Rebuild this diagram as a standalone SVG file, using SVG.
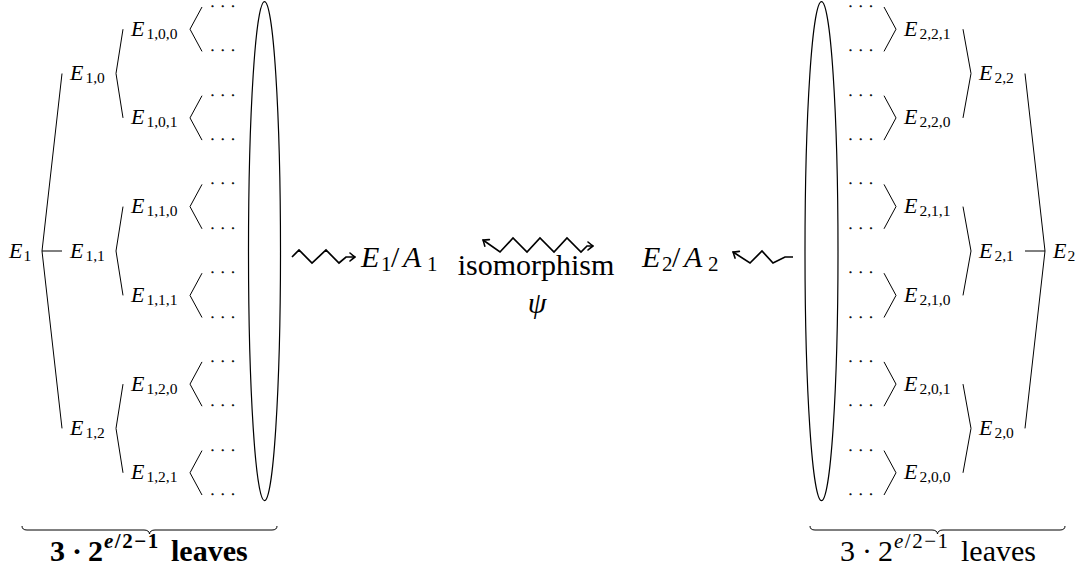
<svg xmlns="http://www.w3.org/2000/svg" width="1081" height="573" viewBox="0 0 1081 573" font-family="'Liberation Serif', 'DejaVu Serif', serif">
<style>
.ln{fill:none;stroke:#000;stroke-width:1}
.el{fill:none;stroke:#000;stroke-width:1.2}
.sq{fill:none;stroke:#000;stroke-width:1.7;stroke-linejoin:miter}
.t{font-size:22px;font-style:italic;fill:#000}
.s{font-size:15.5px;font-style:normal}
.d{font-size:12px;letter-spacing:6.3px;fill:#000;stroke:#000;stroke-width:0.7}
.m{font-size:30px;fill:#000}
.mi{font-style:italic}
.ms{font-size:21px;font-style:normal}
.b{font-size:30px;fill:#000}
.bs{font-size:21px;letter-spacing:1.5px}
</style>
<defs>
<marker id="ah" viewBox="-7 -5 8 10" refX="0" refY="0" markerWidth="8" markerHeight="10" markerUnits="userSpaceOnUse" orient="auto-start-reverse">
<path d="M-5,-4 Q-1.5,-1 0,0 Q-1.5,1 -5,4" fill="none" stroke="#000" stroke-width="1.6" stroke-linecap="round"/>
</marker>
</defs>

<g id="connectors">
<polyline class="ln" points="202,7 190,29.2 202,51.4"/>
<polyline class="ln" points="202,95.7 190,117.9 202,140.1"/>
<polyline class="ln" points="202,184.4 190,206.6 202,228.8"/>
<polyline class="ln" points="202,273.2 190,295.4 202,317.5"/>
<polyline class="ln" points="202,361.9 190,384.1 202,406.2"/>
<polyline class="ln" points="202,450.6 190,472.8 202,495"/>
<polyline class="ln" points="123,29.2 116,73.5 123,117.9"/>
<polyline class="ln" points="123,206.6 116,251 123,295.4"/>
<polyline class="ln" points="123,384.1 116,428.4 123,472.8"/>
<polyline class="ln" points="62,73.5 42,251 62,428.4"/>
<line class="ln" x1="42" y1="251" x2="62" y2="251"/>
<polyline class="ln" points="884,7 896,29.2 884,51.4"/>
<polyline class="ln" points="884,95.7 896,117.9 884,140.1"/>
<polyline class="ln" points="884,184.4 896,206.6 884,228.8"/>
<polyline class="ln" points="884,273.2 896,295.4 884,317.5"/>
<polyline class="ln" points="884,361.9 896,384.1 884,406.2"/>
<polyline class="ln" points="884,450.6 896,472.8 884,495"/>
<polyline class="ln" points="963,29.2 971,73.5 963,117.9"/>
<polyline class="ln" points="963,206.6 971,251 963,295.4"/>
<polyline class="ln" points="963,384.1 971,428.4 963,472.8"/>
<polyline class="ln" points="1025,73.5 1045,251 1025,428.4"/>
<line class="ln" x1="1025" y1="251" x2="1045" y2="251"/>
<path class="sq" d="M292,257 L299,250 L312,263 L326,250 L339,263 L346,257 L355,257" marker-end="url(#ah)"/>
<path class="sq" d="M483,240 L500,252 L513,238 L527,252 L540,238 L554,252 L567,238 L581,252 L587,246 L593,246" marker-start="url(#ah)" marker-end="url(#ah)"/>
<path class="sq" d="M793,257 L785,257 L773,263 L762,251 L750,263 L733,252" marker-end="url(#ah)"/>
</g>

<g id="left-leaf-set">
<ellipse class="el" cx="264.5" cy="251.2" rx="16" ry="249.5"/>
<path class="ln" d="M22,526 Q22,530 27,530 L144,530 Q149,530 149.5,534 Q150,530 155,530 L272,530 Q277,530 277,526"/>
<text class="b" font-weight="bold" y="561"><tspan x="50">3</tspan><tspan x="77" text-anchor="middle">·</tspan><tspan x="88">2</tspan><tspan class="bs" x="104" y="548"><tspan font-style="italic">e</tspan>/2−1</tspan><tspan x="171" y="561">leaves</tspan></text>
</g>
<g id="right-leaf-set">
<ellipse class="el" cx="821.5" cy="251.2" rx="16.5" ry="249.5"/>
<path class="ln" d="M810,526 Q810,530 815,530 L932,530 Q937,530 937.5,534 Q938,530 943,530 L1060,530 Q1065,530 1065,526"/>
<text class="b" y="561"><tspan x="840">3</tspan><tspan x="867" text-anchor="middle">·</tspan><tspan x="878">2</tspan><tspan class="bs" x="894" y="548"><tspan font-style="italic">e</tspan>/2−1</tspan><tspan x="961" y="561">leaves</tspan></text>
</g>

<g id="left-leaves">
<text class="d" x="210.5" y="10">···</text>
<text class="d" x="210.5" y="54.4">···</text>
<text class="d" x="210.5" y="98.7">···</text>
<text class="d" x="210.5" y="143.1">···</text>
<text class="d" x="210.5" y="187.4">···</text>
<text class="d" x="210.5" y="231.8">···</text>
<text class="d" x="210.5" y="276.2">···</text>
<text class="d" x="210.5" y="320.5">···</text>
<text class="d" x="210.5" y="364.9">···</text>
<text class="d" x="210.5" y="409.2">···</text>
<text class="d" x="210.5" y="453.6">···</text>
<text class="d" x="210.5" y="498">···</text>
</g>
<g id="right-leaves">
<text class="d" x="848.5" y="10">···</text>
<text class="d" x="848.5" y="54.4">···</text>
<text class="d" x="848.5" y="98.7">···</text>
<text class="d" x="848.5" y="143.1">···</text>
<text class="d" x="848.5" y="187.4">···</text>
<text class="d" x="848.5" y="231.8">···</text>
<text class="d" x="848.5" y="276.2">···</text>
<text class="d" x="848.5" y="320.5">···</text>
<text class="d" x="848.5" y="364.9">···</text>
<text class="d" x="848.5" y="409.2">···</text>
<text class="d" x="848.5" y="453.6">···</text>
<text class="d" x="848.5" y="498">···</text>
</g>

<g id="E1"><text class="t" x="9" y="257.5">E<tspan class="s" dx="1" dy="3">1</tspan></text></g>
<g id="E10"><text class="t" x="70" y="80">E<tspan class="s" dx="2" dy="3">1,0</tspan></text></g>
<g id="E11"><text class="t" x="70" y="257.5">E<tspan class="s" dx="2" dy="3">1,1</tspan></text></g>
<g id="E12"><text class="t" x="70" y="434.9">E<tspan class="s" dx="2" dy="3">1,2</tspan></text></g>
<g id="E100"><text class="t" x="131" y="35.7">E<tspan class="s" dx="2" dy="3">1,0,0</tspan></text></g>
<g id="E101"><text class="t" x="131" y="124.4">E<tspan class="s" dx="2" dy="3">1,0,1</tspan></text></g>
<g id="E110"><text class="t" x="131" y="213.1">E<tspan class="s" dx="2" dy="3">1,1,0</tspan></text></g>
<g id="E111"><text class="t" x="131" y="301.9">E<tspan class="s" dx="2" dy="3">1,1,1</tspan></text></g>
<g id="E120"><text class="t" x="131" y="390.6">E<tspan class="s" dx="2" dy="3">1,2,0</tspan></text></g>
<g id="E121"><text class="t" x="131" y="479.3">E<tspan class="s" dx="2" dy="3">1,2,1</tspan></text></g>

<g id="E221"><text class="t" x="904" y="35.7">E<tspan class="s" dx="2" dy="3">2,2,1</tspan></text></g>
<g id="E220"><text class="t" x="904" y="124.4">E<tspan class="s" dx="2" dy="3">2,2,0</tspan></text></g>
<g id="E211"><text class="t" x="904" y="213.1">E<tspan class="s" dx="2" dy="3">2,1,1</tspan></text></g>
<g id="E210"><text class="t" x="904" y="301.9">E<tspan class="s" dx="2" dy="3">2,1,0</tspan></text></g>
<g id="E201"><text class="t" x="904" y="390.6">E<tspan class="s" dx="2" dy="3">2,0,1</tspan></text></g>
<g id="E200"><text class="t" x="904" y="479.3">E<tspan class="s" dx="2" dy="3">2,0,0</tspan></text></g>
<g id="E22"><text class="t" x="979" y="80">E<tspan class="s" dx="2" dy="3">2,2</tspan></text></g>
<g id="E21"><text class="t" x="979" y="257.5">E<tspan class="s" dx="2" dy="3">2,1</tspan></text></g>
<g id="E20"><text class="t" x="979" y="434.9">E<tspan class="s" dx="2" dy="3">2,0</tspan></text></g>
<g id="E2"><text class="t" x="1053" y="257.5">E<tspan class="s" dx="1" dy="3">2</tspan></text></g>

<g id="E1A1"><text class="m" y="267"><tspan class="mi" x="361">E</tspan><tspan class="ms" x="381" y="271">1</tspan><tspan x="391" y="267">/</tspan><tspan class="mi" x="403" y="267">A</tspan><tspan class="ms" x="427" y="271">1</tspan></text></g>
<g id="E2A2"><text class="m" y="267"><tspan class="mi" x="642">E</tspan><tspan class="ms" x="662" y="271">2</tspan><tspan x="672" y="267">/</tspan><tspan class="mi" x="684" y="267">A</tspan><tspan class="ms" x="708" y="271">2</tspan></text></g>
<g id="iso"><text class="m" x="536" y="275" text-anchor="middle" font-size="32">isomorphism</text>
<text class="m mi" x="537" y="313" text-anchor="middle">ψ</text></g>
</svg>
